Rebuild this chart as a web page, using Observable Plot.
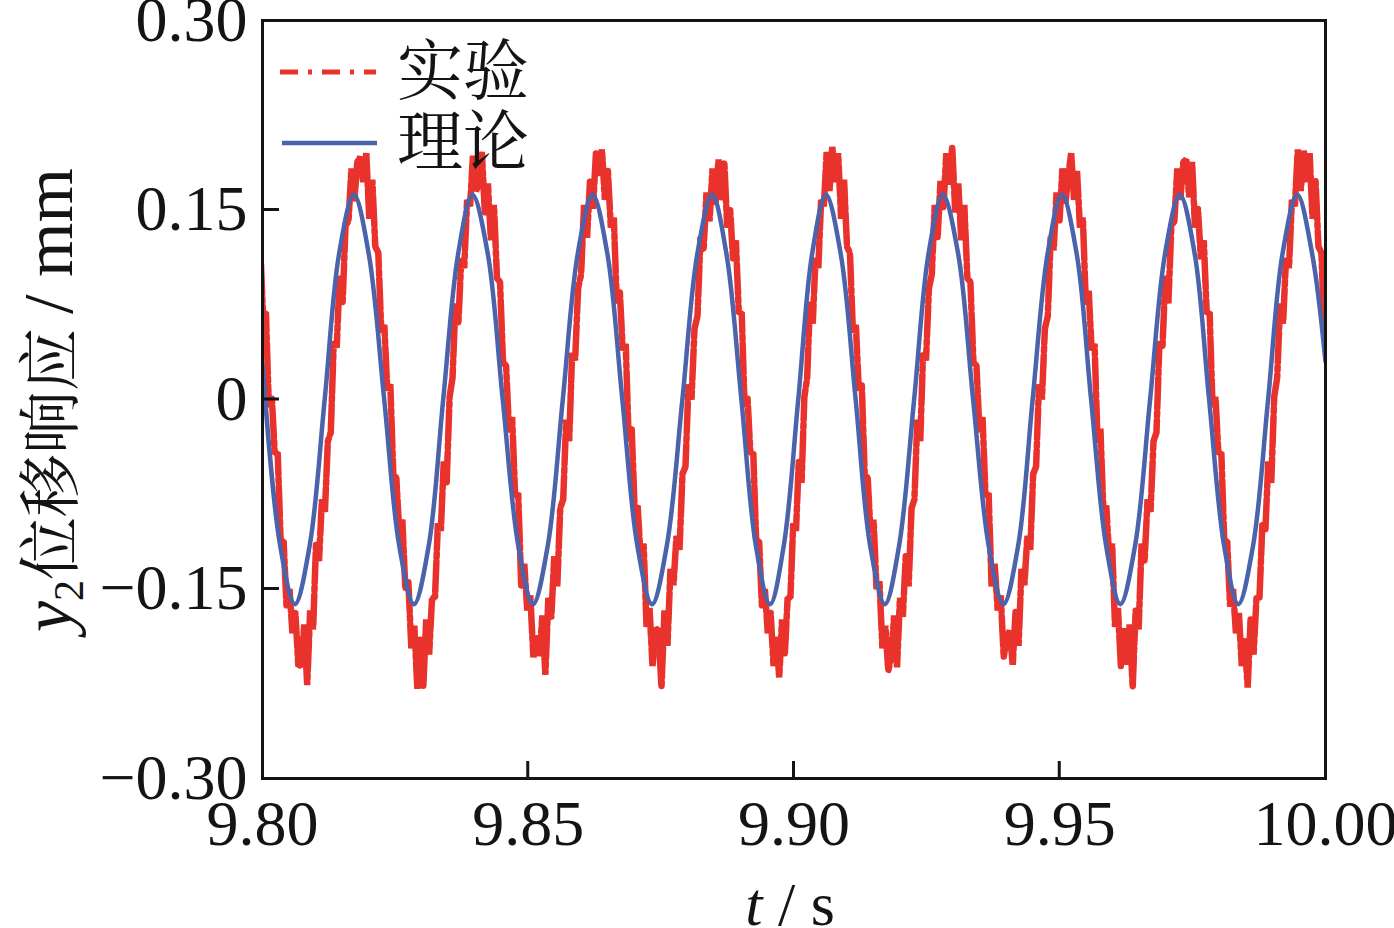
<!DOCTYPE html>
<html>
<head>
<meta charset="utf-8">
<script src="https://cdn.jsdelivr.net/npm/d3@7"></script>
<script src="https://cdn.jsdelivr.net/npm/@observablehq/plot@0.6"></script>
<style>
  html, body { margin: 0; padding: 0; background: #fff; }
  #chart { width: 1394px; height: 928px; overflow: hidden; }
</style>
</head>
<body>
<div id="chart"></div>
<script>
// ---------- data ----------
const xTicks = [9.80, 9.85, 9.90, 9.95, 10.00];
const xTickLabels = ["9.80", "9.85", "9.90", "9.95", "10.00"];
const yTicks = [-0.30, -0.15, 0, 0.15, 0.30];
const yTickLabels = ["\u22120.30", "\u22120.15", "0", "0.15", "0.30"];
const seriesNames = ["实验", "理论"];

// theory (理论): smooth response, read at extremes, quarter points and zero crossings
const theoryT = [9.8000, 9.8033, 9.8061,
  9.8089, 9.8117, 9.8144, 9.8172,
  9.8200, 9.8229, 9.8257, 9.8285,
  9.8313, 9.8340, 9.8368, 9.8395,
  9.8424, 9.8452, 9.8481, 9.8509,
  9.8537, 9.8565, 9.8593, 9.8621,
  9.8649, 9.8677, 9.8705, 9.8733,
  9.8761, 9.8790, 9.8818, 9.8846,
  9.8873, 9.8901, 9.8928, 9.8955,
  9.8981, 9.9008, 9.9034, 9.9060,
  9.9088, 9.9116, 9.9143, 9.9171,
  9.9198, 9.9226, 9.9253, 9.9280,
  9.9309, 9.9337, 9.9366, 9.9394,
  9.9422, 9.9449, 9.9477, 9.9504,
  9.9532, 9.9559, 9.9587, 9.9614,
  9.9642, 9.9670, 9.9698, 9.9726,
  9.9754, 9.9781, 9.9809, 9.9836,
  9.9864, 9.9892, 9.9919, 9.9947,
  9.9975, 10.0000];
const theoryY = [0.028, -0.115, -0.162,
  -0.115, 0.000, 0.115, 0.162,
  0.115, 0.000, -0.115, -0.162,
  -0.115, 0.000, 0.115, 0.162,
  0.115, 0.000, -0.115, -0.162,
  -0.115, 0.000, 0.115, 0.162,
  0.115, 0.000, -0.115, -0.162,
  -0.115, 0.000, 0.115, 0.162,
  0.115, 0.000, -0.115, -0.162,
  -0.115, 0.000, 0.115, 0.162,
  0.115, 0.000, -0.115, -0.162,
  -0.115, 0.000, 0.115, 0.162,
  0.115, 0.000, -0.115, -0.162,
  -0.115, 0.000, 0.115, 0.162,
  0.115, 0.000, -0.115, -0.162,
  -0.115, 0.000, 0.115, 0.162,
  0.115, 0.000, -0.115, -0.162,
  -0.115, 0.000, 0.115, 0.162,
  0.115, 0.030];

// experiment (实验): times of the measured extremes, and the noisy samples
// read between each extreme and the next (evenly sampled)
const expExtremeT = [9.7962, 9.8073, 9.8184, 9.8297, 9.8407, 9.8521, 9.8633, 9.8745,
  9.8858, 9.8967, 9.9072, 9.9183, 9.9292, 9.9406, 9.9516, 9.9626, 9.9738, 9.9848,
  9.9959, 10.0070];
const expSegments = [
  [0.190,0.160,0.188,0.136,0.151,0.111,0.126,0.068,0.069,-0.006,0.002,-0.043,-0.042,-0.112,-0.112,-0.164,-0.150,-0.185,-0.169,-0.211],
  [-0.210,-0.178,-0.226,-0.167,-0.182,-0.114,-0.128,-0.079,-0.089,-0.033,-0.026,0.046,0.041,0.098,0.076,0.138,0.141,0.183,0.158,0.188],
  [0.192,0.172,0.195,0.143,0.174,0.121,0.116,0.053,0.059,0.007,0.012,-0.060,-0.062,-0.106,-0.095,-0.150,-0.144,-0.197,-0.179,-0.229],
  [-0.190,-0.228,-0.174,-0.202,-0.157,-0.157,-0.098,-0.104,-0.049,-0.066,0.002,0.017,0.076,0.060,0.112,0.104,0.158,0.153,0.193,0.165],
  [0.170,0.196,0.148,0.171,0.126,0.154,0.096,0.093,0.029,0.027,-0.026,-0.014,-0.077,-0.074,-0.148,-0.130,-0.167,-0.155,-0.204,-0.188],
  [-0.203,-0.171,-0.218,-0.157,-0.172,-0.124,-0.148,-0.086,-0.079,-0.016,-0.033,0.037,0.031,0.088,0.099,0.154,0.128,0.173,0.151,0.195],
  [0.177,0.198,0.158,0.181,0.136,0.144,0.076,0.086,0.039,0.044,-0.033,-0.023,-0.087,-0.084,-0.125,-0.114,-0.180,-0.165,-0.211,-0.181],
  [-0.183,-0.228,-0.167,-0.195,-0.134,-0.147,-0.108,-0.119,-0.059,-0.053,0.012,0.000,0.056,0.066,0.129,0.118,0.164,0.141,0.183,0.155],
  [0.190,0.160,0.188,0.136,0.151,0.111,0.126,0.068,0.069,-0.006,0.002,-0.043,-0.042,-0.112,-0.112,-0.164,-0.150,-0.185,-0.169,-0.211],
  [-0.190,-0.220,-0.174,-0.202,-0.157,-0.157,-0.098,-0.104,-0.049,-0.066,0.002,0.017,0.076,0.060,0.112,0.104,0.158,0.153,0.196,0.165],
  [0.200,0.172,0.195,0.143,0.174,0.121,0.116,0.053,0.059,0.007,0.012,-0.060,-0.062,-0.106,-0.095,-0.150,-0.144,-0.197,-0.179,-0.215],
  [-0.203,-0.171,-0.212,-0.157,-0.172,-0.124,-0.148,-0.086,-0.079,-0.016,-0.033,0.037,0.031,0.088,0.099,0.154,0.128,0.173,0.151,0.195],
  [0.170,0.200,0.148,0.171,0.126,0.154,0.096,0.093,0.029,0.027,-0.026,-0.014,-0.077,-0.074,-0.148,-0.130,-0.167,-0.155,-0.204,-0.188],
  [-0.183,-0.210,-0.167,-0.195,-0.134,-0.147,-0.108,-0.119,-0.059,-0.053,0.012,0.000,0.056,0.066,0.129,0.118,0.164,0.141,0.183,0.155],
  [0.177,0.195,0.158,0.181,0.136,0.144,0.076,0.086,0.039,0.044,-0.033,-0.023,-0.087,-0.084,-0.125,-0.114,-0.180,-0.165,-0.211,-0.181],
  [-0.210,-0.178,-0.228,-0.167,-0.182,-0.114,-0.128,-0.079,-0.089,-0.033,-0.026,0.046,0.041,0.098,0.076,0.138,0.141,0.183,0.158,0.188],
  [0.190,0.160,0.188,0.136,0.151,0.111,0.126,0.068,0.069,-0.006,0.002,-0.043,-0.042,-0.112,-0.112,-0.164,-0.150,-0.185,-0.169,-0.211],
  [-0.190,-0.228,-0.174,-0.202,-0.157,-0.157,-0.098,-0.104,-0.049,-0.066,0.002,0.017,0.076,0.060,0.112,0.104,0.158,0.153,0.198,0.165],
  [0.197,0.172,0.195,0.143,0.174,0.121,0.116,0.053,0.059,0.007,0.012,-0.060,-0.062,-0.106,-0.095,-0.150,-0.144,-0.197,-0.179,-0.221]
];
const expEndY = -0.198;

// ---------- build tables ----------
const theory = theoryT.map((t, i) => ({t, v: theoryY[i]}));
const experiment = [];
expSegments.forEach((seg, i) => {
  const t0 = expExtremeT[i], t1 = expExtremeT[i + 1];
  seg.forEach((v, j) => experiment.push({t: t0 + (t1 - t0) * j / seg.length, v}));
});
experiment.push({t: expExtremeT[expExtremeT.length - 1], v: expEndY});

const RED = "#EA322D";
const BLUE = "#4A63AA";
const INK = "#141414";
const SERIF = "'Liberation Serif', 'Times New Roman', serif";
const CJK = "'Noto Serif CJK SC', 'Noto Sans CJK SC', sans-serif";

const plot = Plot.plot({
  width: 1394,
  height: 928,
  marginLeft: 262,
  marginRight: 69,
  marginTop: 20,
  marginBottom: 150,
  x: {domain: [9.80, 10.00]},
  y: {domain: [-0.30, 0.30]},
  style: {fontFamily: SERIF, background: "#fff", color: INK, overflow: "visible"},
  marks: [
    Plot.line(experiment, {x: "t", y: "v", stroke: RED, strokeWidth: 6.5, strokeDasharray: "30,4,4,4", strokeLinejoin: "bevel", clip: true}),
    Plot.line(theory, {x: "t", y: "v", stroke: BLUE, strokeWidth: 4.5, curve: "catmull-rom", clip: true}),
    Plot.frame({stroke: INK, strokeWidth: 3}),
    Plot.axisX({ticks: xTicks, tickFormat: (d, i) => xTickLabels[i], tickSize: 0, tickPadding: 21, fontSize: 64, label: null}),
    Plot.axisY({ticks: yTicks, tickFormat: (d, i) => yTickLabels[i], tickSize: 0, tickPadding: 15, fontSize: 64, label: null})
  ]
});

document.getElementById("chart").appendChild(plot);

// ---------- decorations: inward ticks, axis titles, legend ----------
const svg = d3.select(plot);
const sx = plot.scale("x"), sy = plot.scale("y");
const left = sx.apply(9.80), bottom = sy.apply(-0.30);
const g = svg.append("g").attr("stroke", INK).attr("stroke-width", 3);
xTicks.slice(1, -1).forEach(v => {
  const x = sx.apply(v);
  g.append("line").attr("x1", x).attr("x2", x).attr("y1", bottom).attr("y2", bottom - 17);
});
yTicks.slice(1, -1).forEach(v => {
  const y = sy.apply(v);
  g.append("line").attr("x1", left).attr("x2", left + 17).attr("y1", y).attr("y2", y);
});

// y title
const yt = svg.append("text")
  .attr("transform", "translate(71,400) rotate(-90)")
  .attr("text-anchor", "middle")
  .attr("fill", INK)
  .attr("font-size", 70)
  .attr("font-family", SERIF);
yt.append("tspan").attr("font-style", "italic").text("y");
yt.append("tspan").attr("font-size", 42).attr("dy", "0.28em").text("2");
yt.append("tspan").attr("dy", "-0.17em").attr("font-family", CJK).attr("font-size", 63).text("位移响应");
yt.append("tspan").text("\u2009/ mm");

// x title
const xt = svg.append("text")
  .attr("x", 790).attr("y", 925)
  .attr("text-anchor", "middle")
  .attr("fill", INK)
  .attr("font-size", 62)
  .attr("font-family", SERIF);
xt.append("tspan").attr("font-style", "italic").text("t");
xt.append("tspan").text(" / s");

// legend
const lg = svg.append("g").attr("text-anchor", "start");
lg.append("line").attr("x1", 280).attr("x2", 376).attr("y1", 72).attr("y2", 72)
  .attr("stroke", RED).attr("stroke-width", 5).attr("stroke-dasharray", "18,10,4,10");
lg.append("line").attr("x1", 282).attr("x2", 377).attr("y1", 143).attr("y2", 143)
  .attr("stroke", BLUE).attr("stroke-width", 4.5);
lg.append("text").attr("x", 397).attr("y", 94).attr("font-family", CJK).attr("font-size", 66)
  .attr("text-anchor", "start").attr("fill", INK).text(seriesNames[0]);
lg.append("text").attr("x", 397).attr("y", 165).attr("font-family", CJK).attr("font-size", 66)
  .attr("text-anchor", "start").attr("fill", INK).text(seriesNames[1]);
</script>
</body>
</html>
